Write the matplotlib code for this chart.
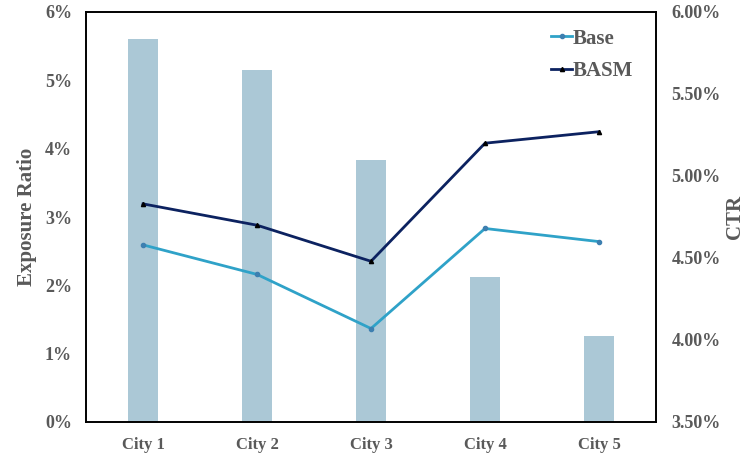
import matplotlib
matplotlib.use("Agg")
import matplotlib.pyplot as plt
from matplotlib.ticker import FuncFormatter

cities = ["City 1", "City 2", "City 3", "City 4", "City 5"]
exposure = [5.61, 5.15, 3.84, 2.12, 1.26]       # % left axis
ctr_base = [4.58, 4.40, 4.07, 4.68, 4.60]       # % right axis
ctr_basm = [4.83, 4.70, 4.48, 5.20, 5.27]

plt.rcParams['font.family'] = ['Liberation Serif', 'DejaVu Serif']
grey = '#595959'

fig = plt.figure(figsize=(7.47, 4.67), dpi=100)
ax = fig.add_axes([86/747, 45/467, 570/747, 410/467])
x = range(len(cities))
ax.bar(x, exposure, width=0.26, color='#abc8d6')
ax.set_ylim(0, 6)
ax.set_xlim(-0.5, 4.5)
ax.set_yticks(range(7))
ax.yaxis.set_major_formatter(FuncFormatter(lambda v, p: f"{v:.0f}%"))
ax.set_xticks(list(x))
ax.set_xticklabels(cities)
ax.set_ylabel("Exposure Ratio", fontsize=15, fontweight='bold', color=grey, labelpad=6)
ax.tick_params(axis='y', length=0, labelsize=13, labelcolor=grey, pad=10)
ax.tick_params(axis='x', length=0, labelsize=12, labelcolor=grey, pad=11)
for lab in ax.get_xticklabels() + ax.get_yticklabels():
    lab.set_fontweight('bold')
for s in ax.spines.values():
    s.set_linewidth(1.2)
    s.set_color('black')

ax2 = ax.twinx()
ax2.plot(x, ctr_base, color='#2fa2c8', lw=2, marker='o', ms=3,
         mfc='#3d7fb0', mec='#3d7fb0', label='Base')
ax2.plot(x, ctr_basm, color='#0c2260', lw=2, marker='^', ms=3,
         mfc='black', mec='black', label='BASM')
ax2.set_ylim(3.5, 6.0)
ax2.set_yticks([3.5, 4.0, 4.5, 5.0, 5.5, 6.0])
ax2.yaxis.set_major_formatter(FuncFormatter(lambda v, p: f"{v:.2f}%"))
ax2.set_ylabel("CTR", fontsize=15, fontweight='bold', color=grey, labelpad=3)
ax2.tick_params(length=0, labelsize=13, labelcolor=grey, pad=11)
for lab in ax2.get_yticklabels():
    lab.set_fontweight('bold')
for s in ax2.spines.values():
    s.set_linewidth(1.2)

leg = ax2.legend(loc='upper right', frameon=False, handlelength=1.0,
                 handletextpad=0.05, labelspacing=0.6,
                 prop={'weight': 'bold', 'size': 15}, borderaxespad=0.0,
                 bbox_to_anchor=(0.975, 0.98))
for t in leg.get_texts():
    t.set_color(grey)

fig.savefig("out.png", dpi=100)
